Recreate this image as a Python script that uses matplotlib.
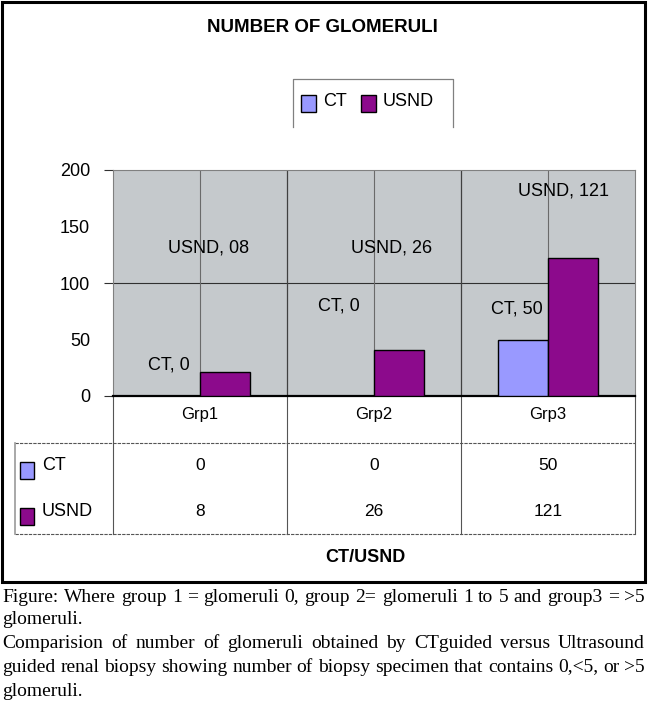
import matplotlib
matplotlib.use("Agg")
import matplotlib.pyplot as plt
from matplotlib.patches import Rectangle

# ---------------- data ----------------
categories = ["Grp1", "Grp2", "Grp3"]
series_names = ["CT", "USND"]
ct_bar_heights = [0, 0, 50]        # bar heights as drawn
usnd_bar_heights = [21, 41, 122]   # bar heights as drawn
ct_table = ["0", "0", "50"]
usnd_table = ["8", "26", "121"]
ct_labels = ["CT, 0", "CT, 0", "CT, 50"]
usnd_labels = ["USND, 08", "USND, 26", "USND, 121"]
y_ticks = [0, 50, 100, 150, 200]
title = "NUMBER OF GLOMERULI"
table_title = "CT/USND"
caption_lines = [
    ("Figure: Where group 1 = glomeruli 0, group 2= glomeruli 1 to 5 and group3 = >5", True),
    ("glomeruli.", False),
    ("Comparision of number of glomeruli obtained by CTguided versus Ultrasound", True),
    ("guided renal biopsy showing number of biopsy specimen that contains 0,<5, or >5", True),
    ("glomeruli.", False),
]

# ---------------- layout / style ----------------
W, H = 650, 704
CT_COLOR = "#9999ff"
USND_COLOR = "#8c0a8c"
BG = "#c5c9cc"
SANS = "Liberation Sans"
SERIF = "Liberation Serif"
ct_label_pos = [(0.32, 27), (1.30, 80), (2.32, 77)]
usnd_label_pos = [(0.55, 131), (1.60, 131), (2.59, 181)]

def fx(px):
    return px / W

def fy(py):
    return 1 - py / H

fig = plt.figure(figsize=(W / 100, H / 100), dpi=100)
fig.patch.set_facecolor("white")

L, R, T, B = 113, 635, 170, 396
ax = fig.add_axes([fx(L), fy(B), (R - L) / W, (B - T) / H])
ax.set_facecolor(BG)
ax.set_xlim(0, 3)
ax.set_ylim(0, 200)

bw = 0.287
x = [i + 0.5 for i in range(len(categories))]
ax.bar([xi - bw for xi in x], ct_bar_heights, width=bw, align="edge",
       color=CT_COLOR, edgecolor="black", linewidth=1.0, zorder=3)
ax.bar(x, usnd_bar_heights, width=bw, align="edge",
       color=USND_COLOR, edgecolor="black", linewidth=1.0, zorder=3)

ax.axhline(100, color="#303030", lw=0.8, zorder=1)
for xi in x:
    ax.axvline(xi, color="#6a6a6a", lw=0.8, zorder=1)
for b in [1, 2]:
    ax.axvline(b, color="#404040", lw=0.9, zorder=1)

for s in ["top", "right", "left"]:
    ax.spines[s].set_color("#808080")
    ax.spines[s].set_linewidth(0.8)
ax.spines["bottom"].set_color("black")
ax.spines["bottom"].set_linewidth(1.6)

ax.set_yticks([t for t in y_ticks if t % 100 == 0])
ax.set_yticks([t for t in y_ticks if t % 100 != 0], minor=True)
ax.set_yticklabels([str(t) for t in y_ticks if t % 100 == 0])
ax.set_yticklabels([str(t) for t in y_ticks if t % 100 != 0], minor=True)
ax.tick_params(axis="y", which="major", length=6.5, width=0.8, color="#303030",
               pad=10, labelsize=13)
ax.tick_params(axis="y", which="minor", length=0, pad=16.5, labelsize=13)
for lab in ax.get_yticklabels(which="both"):
    lab.set_fontfamily(SANS)
ax.set_xticks([])

for (lx, ly), txt in zip(ct_label_pos, ct_labels):
    ax.text(lx, ly, txt, ha="center", va="center", fontsize=13,
            family=SANS, zorder=4)
for (lx, ly), txt in zip(usnd_label_pos, usnd_labels):
    ax.text(lx, ly, txt, ha="center", va="center", fontsize=13,
            family=SANS, zorder=4)

# ---------------- table ----------------
tab = fig.add_axes([0, 0, 1, 1], zorder=-1)
tab.set_xlim(0, W)
tab.set_ylim(H, 0)
tab.axis("off")
tab.patch.set_alpha(0)

col_edges = [L + i * (R - L) / 3 for i in range(4)]
col_centers = [(col_edges[i] + col_edges[i + 1]) / 2 for i in range(3)]
tab_left, tab_hline, tab_bottom = 15, 443, 534
for ce in col_edges:
    tab.plot([ce, ce], [B, tab_bottom], color="#555555", lw=0.8)
tab.plot([tab_left, R], [tab_hline, tab_hline], color="#555555", lw=0.8,
         ls=(0, (3, 1)))
tab.plot([tab_left, R], [tab_bottom, tab_bottom], color="#555555", lw=0.8,
         ls=(0, (3, 1)))
tab.plot([tab_left, tab_left], [tab_hline, tab_bottom], color="#999999", lw=1.2)

for cx, cat in zip(col_centers, categories):
    tab.text(cx, 415, cat, ha="center", va="center", fontsize=12, family=SANS)
row_y = [466, 512]
for ry, vals in zip(row_y, [ct_table, usnd_table]):
    for cx, v in zip(col_centers, vals):
        tab.text(cx, ry, v, ha="center", va="center", fontsize=12.5, family=SANS)
for ry, name, col in zip(row_y, series_names, [CT_COLOR, USND_COLOR]):
    tab.add_patch(Rectangle((20, ry - 4), 14, 17, facecolor=col,
                            edgecolor="black", lw=1.0))
    tab.text(42, ry, name, ha="left", va="center", fontsize=13, family=SANS)

tab.text(365, 557, table_title, ha="center", va="center", fontsize=13,
         family=SANS, fontweight="bold")

tab.text(322, 27, title, ha="center", va="center", fontsize=13.5,
         family=SANS, fontweight="bold")

lg_l, lg_r, lg_t, lg_b = 293, 453, 79, 127
tab.plot([lg_l, lg_l, lg_r, lg_r], [lg_b, lg_t, lg_t, lg_b], color="#808080", lw=0.9)
leg_x = [301, 361]
for lx, name, col in zip(leg_x, series_names, [CT_COLOR, USND_COLOR]):
    tab.add_patch(Rectangle((lx, 95), 15, 17, facecolor=col,
                            edgecolor="black", lw=1.0))
    tab.text(lx + 22, 101, name, ha="left", va="center", fontsize=13, family=SANS)

tab.add_patch(Rectangle((2, 2), 643, 580, fill=False, edgecolor="black", lw=2.2))

# ---------------- caption ----------------
renderer = fig.canvas.get_renderer()
cap_left, cap_right = 2, 645
cap_y = [597, 620, 644, 667, 691]
CAP_FS = 14
for (line, justify), cy in zip(caption_lines, cap_y):
    if not justify:
        tab.text(cap_left, cy, line, ha="left", va="center", fontsize=CAP_FS,
                 family=SERIF)
        continue
    words = line.split(" ")
    texts = [tab.text(0, cy, w, ha="left", va="center", fontsize=CAP_FS, family=SERIF)
             for w in words]
    widths = [t.get_window_extent(renderer).width for t in texts]
    gap = (cap_right - cap_left - sum(widths)) / (len(words) - 1)
    pos = cap_left
    for t, w in zip(texts, widths):
        t.set_x(pos)
        pos += w + gap

fig.savefig("out.png", dpi=100)
